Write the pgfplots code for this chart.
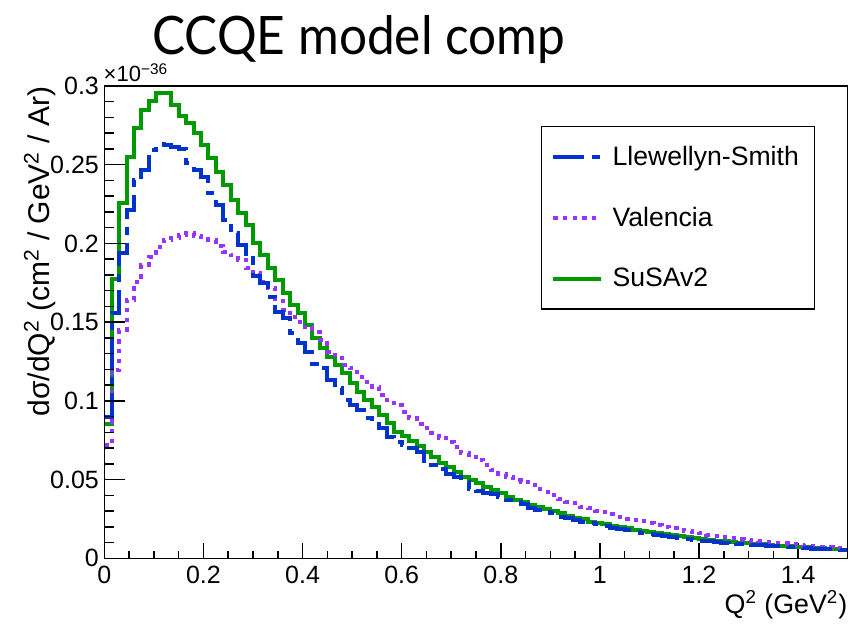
\documentclass[border=0pt]{standalone}
\usepackage{fontspec}
\setmainfont{Liberation Sans}
\newfontfamily\titlefont[FakeStretch=0.935]{Lato}
\usepackage{pgfplots}
\usepackage{pgfplotstable}
\pgfplotsset{compat=1.18}
\definecolor{lsblue}{RGB}{0,51,204}
\definecolor{valpurple}{RGB}{153,51,255}
\definecolor{susagreen}{RGB}{0,153,0}
\tikzset{
  lsstyle/.style={color=lsblue, line width=2pt, line join=miter, dash pattern=on 15.5pt off 4pt on 4pt off 4pt},
  valstyle/.style={color=valpurple, line width=2pt, line join=miter, dash pattern=on 2.15pt off 2.7pt},
  susastyle/.style={color=susagreen, line width=2pt, line join=miter},
}
\pgfplotstableread{
x ls val susa
0 0.0900 0.0718 0.0850
0.015 0.1560 0.1196 0.1775
0.03 0.1940 0.1450 0.2255
0.045 0.2213 0.1640 0.2548
0.06 0.2404 0.1757 0.2736
0.075 0.2467 0.1863 0.2848
0.09 0.2594 0.1916 0.2907
0.105 0.2632 0.1980 0.2954
0.12 0.2628 0.2022 0.2954
0.135 0.2610 0.2033 0.2880
0.15 0.2600 0.2054 0.2812
0.165 0.2510 0.2065 0.2764
0.18 0.2467 0.2050 0.2700
0.195 0.2425 0.2043 0.2626
0.21 0.2319 0.2022 0.2541
0.225 0.2245 0.1985 0.2456
0.24 0.2150 0.1946 0.2372
0.255 0.2065 0.1925 0.2276
0.27 0.1990 0.1895 0.2192
0.285 0.1906 0.1844 0.2118
0.3 0.1794 0.1810 0.2001
0.315 0.1747 0.1757 0.1927
0.33 0.1662 0.1715 0.1842
0.345 0.1567 0.1650 0.1768
0.36 0.1525 0.1580 0.1684
0.375 0.1429 0.1530 0.1609
0.39 0.1366 0.1500 0.1557
0.405 0.1313 0.1468 0.1482
0.42 0.1235 0.1435 0.1398
0.435 0.1207 0.1385 0.1334
0.45 0.1133 0.1313 0.1281
0.465 0.1080 0.1292 0.1228
0.48 0.1006 0.1228 0.1175
0.495 0.0974 0.1207 0.1112
0.51 0.0942 0.1154 0.1058
0.525 0.0889 0.1122 0.1006
0.54 0.0855 0.1090 0.0963
0.555 0.0826 0.1038 0.0910
0.57 0.0773 0.1006 0.0858
0.585 0.0740 0.0974 0.0804
0.6 0.0720 0.0931 0.0775
0.615 0.0700 0.0890 0.0745
0.63 0.0677 0.0853 0.0716
0.645 0.0620 0.0826 0.0677
0.66 0.0593 0.0794 0.0646
0.675 0.0565 0.0766 0.0603
0.69 0.0536 0.0741 0.0582
0.705 0.0518 0.0709 0.0550
0.72 0.0487 0.0667 0.0518
0.735 0.0442 0.0646 0.0497
0.75 0.0430 0.0625 0.0476
0.765 0.0413 0.0593 0.0451
0.78 0.0406 0.0561 0.0434
0.795 0.0387 0.0536 0.0413
0.81 0.0370 0.0515 0.0391
0.825 0.0360 0.0497 0.0370
0.84 0.0345 0.0485 0.0356
0.855 0.0318 0.0466 0.0339
0.87 0.0307 0.0438 0.0324
0.885 0.0296 0.0423 0.0311
0.9 0.0286 0.0402 0.0300
0.915 0.0264 0.0375 0.0286
0.93 0.0254 0.0360 0.0269
0.945 0.0243 0.0349 0.0258
0.96 0.0233 0.0328 0.0248
0.975 0.0226 0.0318 0.0233
0.99 0.0216 0.0302 0.0226
1.005 0.0205 0.0294 0.0216
1.02 0.0194 0.0281 0.0205
1.035 0.0186 0.0264 0.0196
1.05 0.0178 0.0252 0.0190
1.065 0.0169 0.0243 0.0180
1.08 0.0160 0.0235 0.0172
1.095 0.0152 0.0226 0.0165
1.11 0.0146 0.0212 0.0159
1.125 0.0140 0.0201 0.0152
1.14 0.0135 0.0191 0.0146
1.155 0.0130 0.0181 0.0140
1.17 0.0125 0.0174 0.0134
1.185 0.0118 0.0167 0.0128
1.2 0.0112 0.0159 0.0123
1.215 0.0107 0.0149 0.0118
1.23 0.0103 0.0141 0.0113
1.245 0.0099 0.0134 0.0108
1.26 0.0095 0.0127 0.0104
1.275 0.0091 0.0121 0.0100
1.29 0.0088 0.0117 0.0096
1.305 0.0085 0.0112 0.0092
1.32 0.0082 0.0107 0.0088
1.335 0.0078 0.0103 0.0084
1.35 0.0075 0.0100 0.0081
1.365 0.0072 0.0096 0.0078
1.38 0.0069 0.0091 0.0075
1.395 0.0066 0.0084 0.0072
1.41 0.0063 0.0080 0.0069
1.425 0.0060 0.0077 0.0066
1.44 0.0058 0.0074 0.0063
1.455 0.0056 0.0070 0.0060
1.47 0.0053 0.0064 0.0057
1.485 0.0050 0.0060 0.0054
1.5 0.0050 0.0060 0.0054
}\hist
\begin{document}
\begin{tikzpicture}
\begin{axis}[
  name=ax, at={(0,0)}, anchor=south west,
  width=371.7pt, height=236.15pt, scale only axis,
  xmin=0, xmax=1.5, ymin=0, ymax=0.3,
  xtick={0,0.2,0.4,0.6,0.8,1,1.2,1.4},
  minor x tick num=3,
  ytick=\empty,
  xtick pos=left, tick align=inside,
  major tick length=7.5pt, minor tick length=3.5pt,
  axis line style={line width=0.75pt},
  every tick/.style={black, line width=0.75pt},
  /pgf/number format/assume math mode=true,
  ticklabel style={font=\fontsize{12.5}{15}\selectfont},
  xticklabel style={inner ysep=3.6pt},
  legend image code/.code={\draw[#1] (0pt,0pt) -- (23.6pt,0pt);},
  legend cell align=left,
  legend style={at={(0.587,0.9153)}, anchor=north west, draw=black, line width=0.7pt, fill=white,
    inner xsep=5pt, inner ysep=0pt, column sep=5pt, row sep=0pt,
    nodes={inner sep=0pt, minimum height=30.4pt},
    font=\fontsize{13.3}{16}\selectfont},
]
\addlegendimage{lsstyle}
\addlegendentry{\makebox[96pt][l]{Llewellyn-Smith}}
\addlegendimage{valstyle}
\addlegendentry{\makebox[96pt][l]{Valencia}}
\addlegendimage{susastyle}
\addlegendentry{\makebox[96pt][l]{SuSAv2}}
\addplot[susastyle, const plot mark left, forget plot] table[x=x, y=susa] {\hist};
\addplot[valstyle, const plot mark left, forget plot] table[x=x, y=val] {\hist};
\addplot[lsstyle, const plot mark left, forget plot] table[x=x, y=ls] {\hist};
\end{axis}
\begin{axis}[
  at={(0,0)}, anchor=south west,
  width=371.7pt, height=236.15pt, scale only axis,
  xmin=0, xmax=1.5, ymin=0, ymax=0.3,
  xtick=\empty,
  ytick={0,0.05,0.1,0.15,0.2,0.25,0.3},
  yticklabels={0,0.05,0.1,0.15,0.2,0.25,0.3},
  minor y tick num=4,
  ytick pos=left, tick align=inside,
  major tick length=10.3pt, minor tick length=5pt,
  axis line style={line width=0.75pt},
  every tick/.style={black, line width=0.75pt},
  ticklabel style={font=\fontsize{12.5}{15}\selectfont},
  yticklabel style={inner xsep=0pt, xshift=-2.5pt},
]
\end{axis}
\node[anchor=base west, inner sep=0pt, font=\titlefont\fontsize{26.5}{30}\selectfont]
  at ([xshift=23.85pt, yshift=15.5pt]ax.north west) {CCQE model comp};
\node[anchor=base west, inner sep=0pt, font=\fontsize{11}{13}\selectfont]
  at ([xshift=-0.5pt, yshift=2pt]ax.north west) {×10\textsuperscript{−36}};
\node[rotate=90, anchor=base east, inner sep=0pt, font=\fontsize{15}{17}\selectfont]
  at ([xshift=-27.6pt]ax.north west) {dσ/dQ\textsuperscript{2} (cm\textsuperscript{2} / GeV\textsuperscript{2} / Ar)};
\node[anchor=base east, inner sep=0pt, font=\fontsize{13.4}{16}\selectfont]
  at ([yshift=-27.6pt]ax.south east) {Q\textsuperscript{2} (GeV\textsuperscript{2})};
\pgfresetboundingbox
\path[use as bounding box] ([xshift=-52.15pt,yshift=-33.35pt]ax.south west) rectangle ([xshift=2.15pt,yshift=43pt]ax.north east);
\end{tikzpicture}
\end{document}
